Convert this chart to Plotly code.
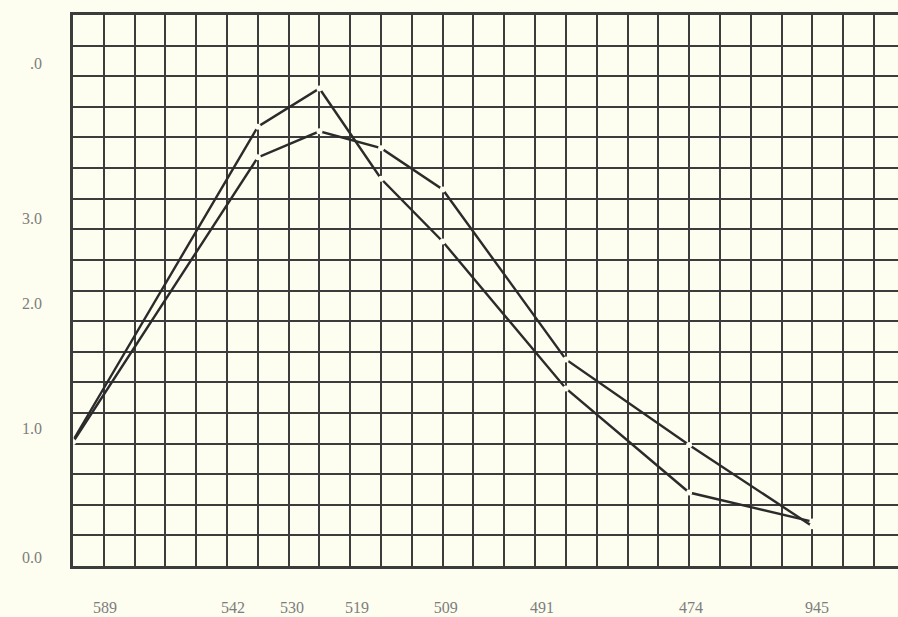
import plotly.graph_objects as go

# Positions in grid squares (graph-paper units)
x_points = [0, 6, 8, 10, 12, 16, 20, 24]
curve_a = [4.1, 14.35, 15.6, 12.65, 10.6, 5.8, 2.4, 1.45]
curve_b = [4.05, 13.35, 14.2, 13.65, 12.3, 6.75, 3.95, 1.3]

x_tick_pos = [1.04, 5.19, 7.11, 9.22, 12.1, 15.22, 20.06, 24.15]
x_tick_text = ["589", "542", "530", "519", "509", "491", "474", "945"]
y_tick_pos = [0.29, 4.5, 8.59, 11.37, 16.43]
y_tick_text = ["0.0", "1.0", "2.0", "3.0", ".0"]

BG = "#FDFDF0"
INK = "#2b2b2b"
GRID = "#3c3c3c"
TXT = "#7d7d7d"
XR = [0, 26.78]
YR = [0, 18]

fig = go.Figure()
for ys in (curve_a, curve_b):
    fig.add_trace(go.Scatter(
        x=x_points, y=ys, mode="lines+markers",
        line=dict(color=INK, width=2.4),
        marker=dict(color=BG, size=6, line=dict(width=0)),
        showlegend=False, hoverinfo="skip",
    ))
# empty trace carrying the labelled overlay axes
fig.add_trace(go.Scatter(x=[None], y=[None], xaxis="x2", yaxis="y2",
                         showlegend=False, hoverinfo="skip"))

fig.update_layout(
    width=898, height=617,
    margin=dict(l=73, r=0, t=15, b=51),
    paper_bgcolor=BG, plot_bgcolor=BG,
    font=dict(family="Liberation Serif, DejaVu Serif, serif", size=16, color=TXT),
    xaxis=dict(range=XR, dtick=1, tick0=0, showgrid=True, gridcolor=GRID,
               gridwidth=2, zeroline=False, showticklabels=False, ticks="",
               showline=True, linecolor=GRID, linewidth=3, mirror=True),
    yaxis=dict(range=YR, dtick=1, tick0=0, showgrid=True, gridcolor=GRID,
               gridwidth=2, zeroline=False, showticklabels=False, ticks="",
               showline=True, linecolor=GRID, linewidth=3, mirror=False),
    xaxis2=dict(range=XR, overlaying="x", side="bottom", anchor="y2",
                showgrid=False, zeroline=False, showline=False,
                tickmode="array", tickvals=x_tick_pos, ticktext=x_tick_text,
                ticks="", ticklabelstandoff=30),
    yaxis2=dict(range=YR, overlaying="y", side="left", anchor="x2",
                showgrid=False, zeroline=False, showline=False,
                tickmode="array", tickvals=y_tick_pos, ticktext=y_tick_text,
                ticks="", ticklabelstandoff=30),
)
fig.write_html("out.html", config={"displayModeBar": False},
               post_script="document.body.style.margin='0';")
